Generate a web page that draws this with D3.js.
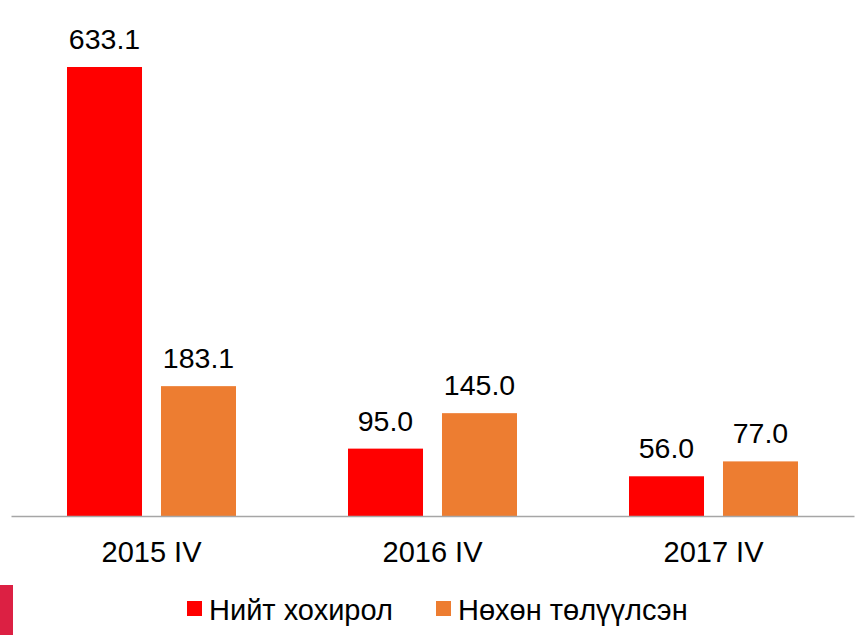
<!DOCTYPE html>
<html><head><meta charset="utf-8">
<script src="https://cdn.jsdelivr.net/npm/d3@7"></script>
<style>body{margin:0;background:#fff}svg{display:block}text{font-family:"Liberation Sans",Arial,sans-serif;fill:#000}</style>
</head><body><svg id="c" width="856" height="635"></svg>
<script>
const categories = ["2015 IV", "2016 IV", "2017 IV"];
const seriesNames = ["Нийт хохирол", "Нөхөн төлүүлсэн"];
const totalLoss = [633.1, 95.0, 56.0];
const recovered = [183.1, 145.0, 77.0];
const colors = ["#ff0000", "#ed7d31"];

const svg = d3.select("#c");
const left = 11, right = 854, baseY = 516, topY = 67;
const x0 = d3.scaleBand().domain(categories).range([left, right]).paddingInner(0).paddingOuter(0);
const x1 = d3.scaleBand().domain([0,1]).range([56, 225]).paddingInner(0.202);
const y = d3.scaleLinear().domain([0, 633.1]).range([baseY, topY]);

const data = categories.map((c,i)=>({c, v:[totalLoss[i], recovered[i]]}));
const g = svg.append("g");
const grp = g.selectAll("g.grp").data(data).join("g").attr("transform", d=>`translate(${x0(d.c)},0)`);
grp.selectAll("rect").data(d=>d.v.map((v,k)=>({v,k}))).join("rect")
  .attr("x", d=>x1(d.k)).attr("width", x1.bandwidth())
  .attr("y", d=>y(d.v)).attr("height", d=>baseY - y(d.v))
  .attr("fill", d=>colors[d.k]);
grp.selectAll("text.val").data(d=>d.v.map((v,k)=>({v,k}))).join("text").attr("class","val")
  .attr("x", d=>x1(d.k)+x1.bandwidth()/2).attr("y", d=>y(d.v)-18)
  .attr("text-anchor","middle").attr("font-size",28.5).text(d=>d3.format(".1f")(d.v));

const axis = d3.axisBottom(x0).tickSize(0).tickPadding(0);
const ax = svg.append("g").attr("transform",`translate(0,${baseY})`).call(axis);
ax.select(".domain").attr("stroke","#a6a6a6").attr("stroke-width",1.5);
ax.selectAll(".tick text").attr("font-size",29).attr("dy",null).attr("y",46)
  .style("font-family",'"Liberation Sans",Arial,sans-serif').attr("fill","#000");

svg.append("rect").attr("x",0).attr("y",585).attr("width",13).attr("height",50).attr("fill","#dc2043");

const legX = [187, 436];
const leg = svg.selectAll("g.leg").data(seriesNames).join("g").attr("transform",(d,i)=>`translate(${legX[i]},601)`);
leg.append("rect").attr("width",15).attr("height",15).attr("fill",(d,i)=>colors[i]);
leg.append("text").attr("x",22).attr("y",19).attr("font-size",29).text(d=>d);
</script></body></html>
